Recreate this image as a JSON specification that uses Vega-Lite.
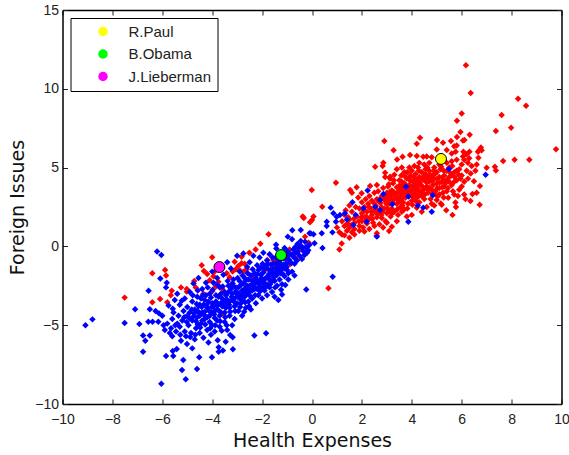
{"$schema":"https://vega.github.io/schema/vega-lite/v6.json","width":499,"height":394,"autosize":"none","padding":{"left":62.5,"top":10,"right":7,"bottom":51},"background":"white","config":{"view":{"stroke":null},"font":"Liberation Sans"},
"datasets":{"red":[
[6.17,11.49],[6.36,9.73],[8.26,9.37],[8.58,8.93],[7.6,8.34],[6.0,8.44],[5.81,7.98],[7.98,7.53],[7.37,7.32],[5.95,7.26],[6.32,7.09],[5.81,6.94],[6.11,6.75],[6.05,6.72],[5.57,6.69],[5.01,6.75],[5.25,6.58],[4.33,6.9],[4.2,6.52],[2.9,6.69],[3.27,6.1],[9.78,6.16],[8.71,5.5],[8.12,5.5],[7.66,5.42],[7.33,5.06],[7.37,4.82],[7.0,4.99],[6.77,6.28],[6.7,6.1],[6.65,6.0],[6.8,6.1],[5.8,6.4],[5.7,6.35],[5.6,5.9],[6.72,2.65],[6.35,2.88],[5.63,2.0],[5.38,2.29],[5.75,2.79],[5.77,2.5],[5.16,2.73],[5.2,2.65],[5.46,3.09],[6.43,3.32],[6.6,3.41],[6.73,3.83],[6.49,4.13],[6.36,4.63],[6.55,4.8],[6.6,5.2],[6.67,5.63],[6.31,6.0],[6.07,6.0],[6.2,5.85],[5.76,6.0],[5.4,6.12],[5.0,6.15],[4.46,5.69],[4.6,5.7],[4.8,5.65],[4.2,5.73],[3.93,5.8],[3.63,5.69],[3.41,5.52],[3.6,5.0],[2.53,5.06],[2.86,5.31],[2.83,5.1],[3.13,4.42],[2.93,4.68],[3.09,0.97],[2.59,0.68],[2.6,0.83],[1.19,0.19],[1.1,-0.19],[-0.01,3.58],[0.96,4.04],[0.41,2.52],[-0.37,1.89],[-0.33,1.8],[0.06,1.89],[0.0,1.68],[-0.08,1.53],[0.66,-2.66],
[1.53,3.58],[1.6,3.4],[1.79,3.75],[1.99,3.37],[1.85,3.1],[2.33,3.83],[2.6,3.9],[2.93,4.4],[3.13,4.3],[3.3,4.55],[3.5,4.2],[3.7,4.7],[3.4,4.9],[3.9,5.0],[4.1,5.1],[4.3,5.3],[4.5,5.2],[4.7,5.3],[4.9,5.0],[5.1,5.2],[5.4,5.3],[5.6,5.4],[5.8,5.5],[6.0,5.2],[6.1,5.5],[6.3,5.6],[6.4,5.1],[6.2,4.8],[6.0,4.5],[5.9,4.9],[5.7,4.7],[5.5,4.4],[5.8,4.2],[6.1,4.1],[5.6,3.9],[5.9,3.6],[5.4,3.5],[5.7,3.3],[5.3,3.8],[5.1,3.3],[5.0,2.95],[4.8,2.7],[4.6,2.5],[4.4,2.2],[4.2,2.45],[4.0,2.0],[3.8,1.9],[3.6,2.2],[3.4,1.6],[3.2,1.25],[3.0,1.5],[2.85,1.2],[2.5,1.3],[2.3,1.1],[2.1,0.95],[1.9,1.0],[1.7,0.75],[1.5,0.55],[1.3,0.7],
[1.0,1.2],[1.1,0.9],[1.2,1.6],[1.2,0.75],[1.3,1.3],[1.3,2.0],[1.4,1.0],[1.45,1.85],[1.5,1.7],[1.5,1.2],[1.6,0.9],[1.6,2.2],[1.7,1.5],[1.7,1.1],[1.75,2.5],[1.8,1.9],[1.9,1.3],[1.9,2.4],[1.5,2.6],[1.35,2.3],[2.0,1.6],[2.0,2.1],[2.0,2.8],[2.05,1.2],[2.1,1.85],[2.1,2.5],[2.15,3.0],[2.2,1.45],[2.2,2.2],[2.25,2.7],[2.3,1.75],[2.3,3.2],[2.35,2.4],[2.4,2.0],[2.4,2.9],[2.45,1.5],[2.5,3.4],[2.5,2.25],[2.55,2.6],[2.6,1.85],[2.6,3.0],[2.65,3.5],[2.7,2.2],[2.7,1.4],[2.75,2.75],[2.8,3.2],[2.8,1.8],[2.85,3.7],[2.9,2.4],[2.9,2.95],[2.95,1.6],[3.0,3.4],[3.0,2.1],[3.05,3.8],[3.1,2.7],[3.1,3.1],[3.15,1.9],[3.2,3.55],[3.2,2.4],[3.25,4.0],[3.3,3.0],[3.3,2.2],[3.35,3.3],[3.4,2.7],[3.4,3.75],[3.45,2.0],[3.5,3.1],[3.5,3.5],[3.55,2.5],[3.6,4.1],[3.6,3.3],[3.65,2.8],[3.7,3.7],[3.7,2.35],[3.75,3.1],[3.8,4.3],[3.8,3.5],[3.85,2.7],[3.9,3.9],[3.9,3.2],[3.95,4.5],[4.0,3.5],[4.0,2.9],[4.05,4.1],[4.1,3.7],[4.1,3.1],[4.15,4.6],[4.2,3.3],[4.2,4.0],[4.25,3.6],[4.3,4.4],[4.3,2.8],[4.35,3.9],[4.4,3.2],[4.4,4.7],[4.45,3.6],[4.5,4.2],[4.5,3.0],[4.55,4.9],[4.6,3.8],[4.6,4.4],[4.65,3.4],[4.7,4.1],[4.7,4.8],[4.75,3.0],[4.8,3.6],[4.8,4.5],[4.85,3.9],[4.9,4.3],[4.9,2.6],[4.95,3.5],[5.0,4.7],[5.0,4.0],[5.05,3.2],[5.1,4.4],[5.1,3.7],[5.15,4.9],[5.2,4.1],[5.25,3.4],[5.3,4.5],[5.35,4.0],[5.4,4.8],[5.45,3.7],[5.5,5.0],[5.5,4.1],[5.6,4.5],[5.65,3.5],[5.7,4.1],[5.8,4.8],[5.85,3.2],[5.95,4.3],[6.0,3.8],[6.1,3.3],[6.25,4.3],[6.15,3.0],[6.05,5.7],[6.25,5.3],[4.0,4.8],[4.25,5.0],[3.75,4.4],[3.5,3.85],[3.2,3.25],[4.4,3.85],[4.6,4.05],[4.5,3.65],[4.2,3.75],[3.9,3.65],[4.1,3.4],[4.3,3.55],[4.75,4.3],[4.55,4.6],[4.35,4.2],[4.15,4.25],[3.95,4.15],[3.7,4.0],[3.45,3.45],
[3.62,3.9],[3.82,3.8],[3.72,3.45],[3.92,3.45],[4.02,3.75],[4.12,3.9],[4.22,4.2],[4.32,4.05],[4.42,4.35],[4.52,4.45],[4.62,4.2],[4.72,4.55],[4.82,4.15],[4.92,4.6],[5.02,4.3],[5.12,4.05],[5.22,4.35],[5.32,4.15],[5.42,4.25],[4.08,4.4],[3.88,4.3],[3.68,3.6],[3.58,3.65],[3.38,3.15],[3.28,3.45],[3.18,2.95],[3.08,3.3],[2.98,2.7],[2.88,3.2],[2.78,2.5],[2.68,2.85],[2.58,2.35],[2.48,2.75],[2.38,2.2],[2.28,2.5],[2.18,1.9],[2.08,2.3],[1.98,1.85],[2.72,3.0],[2.92,3.15],[3.12,3.45],[3.02,2.95],[3.22,2.8],[3.42,3.0],[3.52,2.85],[3.62,3.05],[3.82,3.25],[4.02,3.2],[4.22,3.1],[4.42,3.4],[4.62,3.6],[4.82,3.35],[5.02,3.7],[5.22,3.75],[4.72,3.7],[4.52,3.3],[4.32,3.25],[4.12,3.55],[5.28,3.1],[4.98,3.25],[2.62,2.05],[2.82,2.2],[3.02,2.4],[3.22,2.1],[3.42,2.35],[3.62,2.6],[3.82,2.4],[4.02,2.65],[4.18,2.85],[2.42,1.75],[2.22,1.65],[2.78,2.0],[3.12,2.25],[1.68,1.75],[1.88,1.6],[1.58,1.35],[1.42,1.45],[5.55,4.65],[5.72,4.4],[5.88,4.55],[5.62,5.1],[5.28,4.8],[5.18,5.05],[4.88,4.8],[4.62,5.0],[4.28,4.8],[3.82,4.7],[3.58,4.5],[3.28,4.2],[3.08,3.95],
[-7.51,-3.25],[-6.4,-1.71],[-5.89,-1.5],[-5.85,-1.85],[-6.4,-3.55],[-6.09,-3.34],[-5.8,-3.55],[-5.62,-2.81],[-5.66,-3.1],[-5.25,-2.6],[-5.02,-2.7],[-5.02,-2.87],[-4.72,-2.2],[-4.66,-2.6],[-4.42,-1.2],[-4.33,-1.56],[-4.0,-0.69],[-3.95,-1.9],[-4.1,-2.15],[-3.75,-2.25],[-3.85,-2.55],[-4.0,-2.85],[-4.35,-3.0],[-3.55,-4.29],[-3.22,-2.4],[-3.42,-1.7],[-3.18,-1.6],[-3.1,-0.97],[-2.82,-0.65],[-2.82,-1.07],[-2.88,-1.54],[-2.62,-1.45],[-2.51,-0.4],[-2.26,-0.19],[-2.07,0.17],[-1.74,0.77],[-1.92,-1.56],[-2.35,-2.03],[-1.71,-2.3],[-1.79,-0.87],[-1.55,-0.87],[-1.42,-1.35],[-0.88,-1.14],[-0.65,-0.75],[-0.5,-0.18],[-0.9,-0.2],[-0.14,0.24],[-0.28,0.62],[-1.0,-0.7],[-1.52,-0.86],[-1.44,-1.35],[-4.2,-1.75],[-3.9,-1.6],[-3.3,-1.95],[-3.05,-1.45],[-2.95,-1.25],[-2.7,-1.1],[-3.6,-2.7],[-2.75,-1.6]
],"blue":[
[-9.08,-5.01],[-8.8,-4.63],[-7.51,-4.86],[-7.09,-3.99],[-6.92,-4.92],[-6.77,-5.66],[-6.5,-5.66],[-6.68,-5.98],[-6.77,-6.68],[-6.55,-2.81],[-6.21,-0.33],[-6.04,-0.55],[-6.08,-2.03],[-5.82,-2.3],[-5.85,-2.6],[-6.5,-3.99],[-6.27,-4.1],[-6.56,-4.78],[-6.39,-4.78],[-6.16,-4.78],[-6.13,-4.25],[-6.04,-8.71],[-5.06,-8.43],[-5.21,-7.84],[-4.61,-7.78],[-5.16,-7.21],[-5.85,-6.95],[-5.56,-6.95],[-5.58,-6.64],[-5.42,-6.51],[-5.25,-5.98],[-5.01,-6.19],[-4.8,-6.47],[-4.52,-7.04],[-4.01,-7.04],[-3.74,-6.4],[-3.74,-6.68],[-3.57,-6.6],[-3.17,-6.53],[-3.46,-6.05],[-3.78,-5.95],[-3.28,-5.62],[-3.18,-5.77],[-2.31,-5.66],[-1.84,-5.51],[-0.23,-2.74],[-1.07,-2.45],[-1.24,-2.75],[-1.43,-0.13],[-0.97,0.62],[-0.79,1.03],[-0.45,1.04],[-0.1,0.83],[-0.05,0.82],[-0.8,0.45],[-0.45,0.35],[-0.28,0.3],[-1.44,0.11],[0.1,0.2],[0.06,0.77],[0.39,0.83],[0.82,0.89],[0.75,2.46],[0.86,2.1],[0.59,1.57],[0.59,1.3],[0.99,1.88],[1.12,1.99],[1.32,2.1],[0.96,1.57],[1.4,1.7],[1.62,2.8],[1.75,2.0],[1.66,1.36],[2.19,1.57],[2.6,0.62],[2.23,3.54],[2.86,3.33],[2.73,2.95],[2.06,2.42],[2.53,2.52],[2.73,2.31],[3.22,2.67],[3.77,3.79],[3.86,3.16],[3.86,1.57],[4.24,2.59],[4.46,2.46],[4.8,2.2],[4.84,3.24],[5.49,4.91],[6.96,4.55],[0.42,-0.1],[0.83,-1.92],
[-6.0,-4.4],[-5.95,-5.0],[-5.9,-5.3],[-5.8,-4.9],[-5.75,-3.75],[-5.7,-5.5],[-5.65,-5.2],[-5.6,-4.6],[-5.6,-5.7],[-5.55,-4.2],[-5.5,-3.4],[-5.45,-5.4],[-5.4,-4.9],[-5.4,-3.0],[-5.35,-4.4],[-5.3,-5.1],[-5.3,-3.7],[-5.2,-4.7],[-5.15,-4.1],[-5.1,-5.4],[-5.1,-3.3],[-5.05,-5.7],[-5.0,-4.4],[-5.0,-3.85],[-4.95,-5.0],[-4.9,-2.9],[-4.9,-4.2],[-4.85,-5.5],[-4.8,-3.5],[-4.8,-4.7],[-4.75,-2.35],[-4.7,-5.9],[-4.7,-4.0],[-4.65,-5.2],[-4.6,-3.2],[-4.6,-4.5],[-4.55,-2.0],[-4.5,-5.5],[-4.5,-3.7],[-4.45,-4.9],[-4.4,-2.7],[-4.4,-4.2],[-4.35,-5.8],[-4.3,-3.4],[-4.3,-4.6],[-4.25,-2.3],[-4.2,-5.3],[-4.2,-3.9],[-4.15,-6.1],[-4.1,-3.0],[-4.1,-4.4],[-4.05,-5.6],[-4.0,-3.6],[-4.0,-1.6],[-4.0,-5.0],[-3.95,-2.3],[-3.9,-4.1],[-3.9,-5.4],[-3.85,-3.1],[-3.8,-4.7],[-3.8,-2.0],[-3.75,-3.7],[-3.7,-5.1],[-3.7,-2.6],[-3.65,-4.2],[-3.6,-3.3],[-3.55,-1.8],[-3.5,-4.8],[-3.5,-2.9],[-3.45,-3.9],[-3.4,-1.0],[-3.4,-5.3],[-3.35,-2.5],[-3.3,-3.5],[-3.3,-4.4],[-3.25,-1.4],[-3.2,-3.0],[-3.2,-5.0],[-3.15,-2.1],[-3.1,-3.8],[-3.1,-4.6],[-3.05,-2.6],[-3.0,-0.6],[-3.0,-3.2],[-2.95,-4.1],[-2.9,-2.2],[-2.9,-1.6],[-2.85,-3.6],[-2.8,-2.8],[-2.8,-4.4],[-2.75,-0.45],[-2.7,-3.2],[-2.7,-2.0],[-2.65,-3.9],[-2.6,-2.5],[-2.6,-1.3],[-2.55,-3.5],[-2.5,-2.9],[-2.5,-1.0],[-2.45,-4.0],[-2.4,-2.2],[-2.4,-3.3],[-2.35,-0.6],[-2.3,-2.7],[-2.3,-1.7],[-2.25,-3.6],[-2.2,-2.3],[-2.2,-1.2],[-2.15,-3.1],[-2.1,-2.6],[-2.1,-0.7],[-2.05,-1.8],[-2.0,-3.3],[-2.0,-2.2],[-1.95,-0.4],[-1.9,-2.8],[-1.9,-1.4],[-1.85,-2.4],[-1.8,-0.9],[-1.8,-3.1],[-1.75,-1.9],[-1.7,-2.6],[-1.7,-0.5],[-1.65,-1.5],[-1.6,-2.9],[-1.6,-2.2],[-1.55,-1.1],[-1.5,-3.2],[-1.5,-1.8],[-1.45,-0.7],[-1.4,-2.5],[-1.4,-1.4],[-1.35,-3.4],[-1.3,-2.1],[-1.3,-1.0],[-1.25,-1.7],[-1.2,-3.05],[-1.2,-2.4],[-1.15,-1.3],[-1.1,-1.9],[-1.1,-0.1],[-1.05,-0.8],[-1.0,-1.5],[-0.95,-2.1],[-0.9,-1.0],[-0.85,-0.5],[-0.8,-1.6],[-0.75,-0.2],[-0.7,-1.1],[-0.65,-0.4],[-0.6,-0.9],[-0.55,-0.1],[-0.5,-0.6],[-0.45,0.05],[-0.4,-0.8],[-0.35,-0.3],[-0.3,-0.55],[-0.25,-0.05],[-0.2,-0.4],[-0.15,-0.25],[-0.1,0.1],[-0.95,-1.7],[-0.7,-1.85],
[-4.6,-4.1],[-4.5,-4.4],[-4.4,-4.7],[-4.3,-4.15],[-4.2,-4.5],[-4.1,-4.8],[-4.0,-4.2],[-3.9,-4.55],[-3.8,-4.0],[-3.7,-4.4],[-3.6,-3.8],[-3.5,-4.2],[-3.4,-3.6],[-3.3,-3.9],[-3.2,-3.4],[-3.1,-3.55],[-3.0,-3.6],[-2.9,-3.3],[-2.8,-3.4],[-2.7,-2.7],[-2.6,-3.0],[-2.5,-2.5],[-2.4,-2.8],[-2.3,-2.3],[-2.2,-2.7],[-2.1,-2.2],[-2.0,-2.6],[-1.9,-2.1],[-1.8,-2.5],[-1.7,-2.1],[-1.6,-1.8],[-1.5,-2.2],[-1.4,-1.8],[-1.3,-1.5],[-1.2,-1.7],[-1.1,-1.4],[-4.75,-4.45],[-4.65,-4.75],[-4.55,-3.8],[-4.45,-3.3],[-4.35,-3.7],[-4.25,-3.1],[-4.15,-3.5],[-4.05,-3.25],[-3.95,-3.8],[-3.85,-3.5],[-3.75,-3.2],[-3.65,-3.0],[-3.55,-3.5],[-3.45,-3.1],[-3.35,-2.9],[-3.25,-2.7],[-3.15,-2.55],[-3.05,-2.85],[-2.95,-2.6],[-2.85,-2.45],[-2.75,-2.35],[-2.65,-2.15],[-2.55,-2.1],[-2.45,-1.85],[-2.35,-2.4],[-2.25,-2.0],[-2.15,-1.5],[-2.05,-1.35],[-1.95,-1.65],[-1.85,-1.25],[-1.75,-1.45],[-1.65,-1.15],[-1.55,-1.4],[-1.45,-1.1],[-1.35,-0.8],[-1.25,-1.1],[-1.15,-0.75],[-1.05,-1.1],[-0.95,-0.55],
[-4.72,-4.25],[-4.62,-3.65],[-4.52,-4.2],[-4.42,-3.85],[-4.32,-4.35],[-4.22,-3.7],[-4.12,-4.1],[-4.02,-3.85],[-3.92,-4.3],[-3.82,-3.75],[-3.72,-4.1],[-3.62,-3.55],[-3.52,-3.8],[-3.42,-3.35],[-3.32,-3.7],[-3.22,-3.2],[-3.12,-3.3],[-3.02,-3.0],[-2.92,-3.0],[-2.82,-3.1],[-2.72,-2.9],[-2.62,-2.7],[-2.52,-2.7],[-2.42,-2.45],[-2.32,-2.55],[-2.22,-2.15],[-2.12,-2.4],[-2.02,-2.0],[-1.92,-2.35],[-1.82,-1.95],[-1.72,-1.75],[-1.62,-1.65],[-1.52,-1.95],[-1.42,-1.6],[-1.32,-1.3],[-1.22,-1.45],[-1.12,-1.15],[-1.02,-1.3],[-0.92,-0.85],[-0.82,-1.05],[-0.72,-0.7],[-4.82,-4.0],[-4.92,-4.55],[-5.02,-4.8],[-5.12,-4.5],[-4.58,-4.95],[-4.48,-5.15],[-4.28,-4.95],[-4.08,-5.2],[-3.88,-5.0],[-3.68,-4.75],[-3.48,-4.5],[-3.28,-4.15],[-3.08,-4.1],[-2.88,-3.85],[-2.68,-3.55],[-2.48,-3.15],[-2.28,-3.1],[-2.08,-2.85],[-1.88,-2.6],[-1.68,-2.4],[-1.48,-2.6],[-4.78,-3.1],[-4.58,-2.8],[-4.38,-3.1],[-4.18,-2.6],[-3.98,-2.75],[-3.78,-2.45],[-3.58,-2.55],[-3.38,-2.2],[-3.18,-2.35],[-2.98,-2.0],[-2.78,-1.85],[-2.58,-1.7],[-2.38,-1.45],[-2.18,-1.75],[-1.98,-1.1],[-1.78,-1.1],[-1.58,-0.7],[-1.38,-1.05],[-1.18,-0.45],[-0.98,-0.3],[-0.78,-0.55],[-0.58,-0.35],[-0.58,0.15],[-0.38,-0.1],[-0.18,0.0],[-0.68,-0.05],[-4.68,-5.6],[-4.88,-5.75],[-5.28,-5.6],[-5.48,-5.0],[-5.58,-3.95],[-5.22,-3.45],[-3.62,-5.35],[-3.42,-5.0],[-2.72,-4.15],[-2.52,-3.8]
],"top":[["R.Paul",5.17,5.55],["B.Obama",-1.24,-0.55],["J.Lieberman",-3.71,-1.31]]},
"layer":[
{"data":{"name":"red"},"transform":[{"calculate":"datum[0]","as":"h"},{"calculate":"datum[1]","as":"f"}],"mark":{"type":"point","shape":"diamond","filled":true,"size":42,"color":"#ff0000","opacity":1,"strokeWidth":0},"encoding":{"x":{"field":"h","type":"quantitative","scale":{"domain":[-10,10],"nice":false},"axis":{"title":"Health Expenses","values":[-10,-8,-6,-4,-2,0,2,4,6,8,10],"grid":false,"labelFlush":false,"domainColor":"black","domainWidth":1.5,"tickColor":"#222","tickSize":-5,"labelPadding":13,"labelFontSize":14,"labelColor":"#222","titleFont":"DejaVu Sans","titleFontSize":19,"titleFontWeight":"normal","titleColor":"#111","titlePadding":5}},"y":{"field":"f","type":"quantitative","scale":{"domain":[-10,15],"nice":false},"axis":{"title":"Foreign Issues","values":[-10,-5,0,5,10,15],"grid":false,"labelFlush":false,"domainColor":"black","domainWidth":1.5,"tickColor":"#222","tickSize":-5,"labelPadding":9,"labelFontSize":14,"labelColor":"#222","titleFont":"DejaVu Sans","titleFontSize":19,"titleFontWeight":"normal","titleColor":"#111","titlePadding":7}}}},
{"data":{"name":"blue"},"transform":[{"calculate":"datum[0]","as":"h"},{"calculate":"datum[1]","as":"f"}],"mark":{"type":"point","shape":"diamond","filled":true,"size":42,"color":"#0000ff","opacity":1,"strokeWidth":0},"encoding":{"x":{"field":"h","type":"quantitative","axis":null},"y":{"field":"f","type":"quantitative","axis":null}}},
{"data":{"name":"top"},"transform":[{"calculate":"datum[0]","as":"who"},{"calculate":"datum[1]","as":"h"},{"calculate":"datum[2]","as":"f"}],"mark":{"type":"point","shape":"circle","filled":true,"size":120,"stroke":"black","strokeWidth":1,"opacity":1},"encoding":{"x":{"field":"h","type":"quantitative","axis":{"orient":"top","title":null,"labels":false,"values":[-10,-8,-6,-4,-2,0,2,4,6,8,10],"grid":false,"domainColor":"black","domainWidth":1.5,"tickColor":"#222","tickSize":-5}},"y":{"field":"f","type":"quantitative","axis":{"orient":"right","title":null,"labels":false,"values":[-10,-5,0,5,10,15],"grid":false,"domainColor":"black","domainWidth":1.5,"tickColor":"#222","tickSize":-5}},"fill":{"field":"who","type":"nominal","scale":{"domain":["R.Paul","B.Obama","J.Lieberman"],"range":["#ffff00","#00ff00","#ff00ff"]},"legend":{"title":null,"orient":"none","legendX":8,"legendY":8,"fillColor":"white","strokeColor":"black","padding":6,"symbolType":"circle","symbolSize":90,"symbolStrokeWidth":0,"symbolOffset":19,"labelOffset":18,"labelFontSize":15,"labelColor":"#222","rowPadding":6.5}}}}
],"resolve":{"axis":{"x":"independent","y":"independent"}}}
